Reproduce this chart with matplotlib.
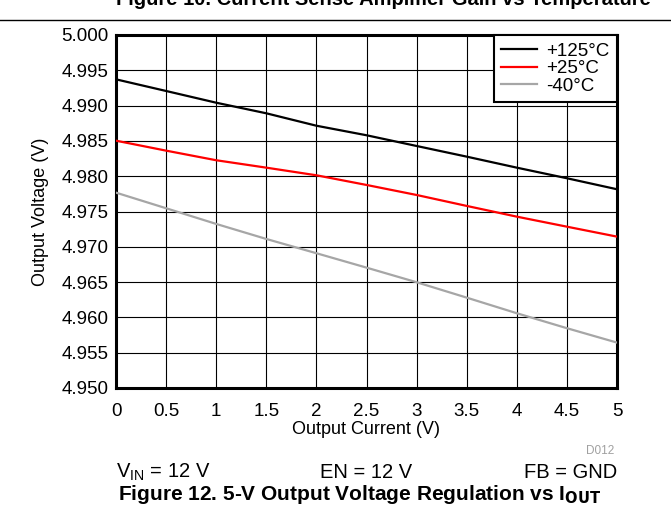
import matplotlib
matplotlib.use("Agg")
import matplotlib.pyplot as plt
from matplotlib.lines import Line2D

plt.rcParams["font.family"] = ["Liberation Sans", "DejaVu Sans"]

current = [0, 0.5, 1, 1.5, 2, 2.5, 3, 3.5, 4, 4.5, 5]
v_125 = [4.99372, 4.99207, 4.99041, 4.98891, 4.98715, 4.98580,
         4.98428, 4.98277, 4.98121, 4.97971, 4.97815]
v_25 = [4.98503, 4.98362, 4.98226, 4.98121, 4.98013, 4.97876,
        4.97734, 4.97579, 4.97427, 4.97285, 4.97144]
v_m40 = [4.97767, 4.97546, 4.97324, 4.97111, 4.96909, 4.96705,
         4.96498, 4.96280, 4.96059, 4.95847, 4.95643]
series_labels = ["+125°C", "+25°C", "-40°C"]
series_colors = ["#000000", "#ff0000", "#a6a6a6"]
xticks = [0, 0.5, 1, 1.5, 2, 2.5, 3, 3.5, 4, 4.5, 5]
xtick_labels = ["0", "0.5", "1", "1.5", "2", "2.5", "3", "3.5", "4", "4.5", "5"]
yticks = [4.950, 4.955, 4.960, 4.965, 4.970, 4.975, 4.980, 4.985, 4.990, 4.995, 5.000]

W, H = 671, 525
fig = plt.figure(figsize=(W / 100, H / 100), dpi=100)
ax = fig.add_axes([116 / W, 1 - 388 / H, (617 - 116) / W, (388 - 35) / H])

for ys, lab, col in zip([v_125, v_25, v_m40], series_labels, series_colors):
    ax.plot(current, ys, color=col, lw=1.6, label=lab, zorder=3)

ax.set_xlim(0, 5)
ax.set_ylim(4.950, 5.000)
ax.set_xticks(xticks)
ax.set_xticklabels(xtick_labels)
ax.set_yticks(yticks)
ax.set_yticklabels([f"{t:.3f}" for t in yticks])
ax.tick_params(length=0, labelsize=13.5, colors="#000000")
ax.tick_params(axis="x", pad=10.5)
ax.tick_params(axis="y", pad=5.5)
ax.grid(True, color="#000000", lw=0.8)
for spine in ax.spines.values():
    spine.set_linewidth(2.2)
    spine.set_color("#000000")

ax.set_xlabel("Output Current (V)", fontsize=13, labelpad=1)
ax.set_ylabel("Output Voltage (V)", fontsize=13, labelpad=9)

leg = ax.legend(loc="upper right", fontsize=13.5, frameon=True, fancybox=False,
                borderaxespad=0, handlelength=1.9, handletextpad=0.5,
                labelspacing=0.02, borderpad=0.4)
leg.get_frame().set_edgecolor("#000000")
leg.get_frame().set_linewidth(1.5)
leg.get_frame().set_alpha(1)

# top header cut off from previous figure
fig.text(383 / W, 1 - 9 / H, "Figure 10. Current Sense Amplifier Gain vs Temperature",
         ha="center", va="bottom", fontsize=14.5, fontweight="bold")
fig.add_artist(Line2D([0, 1], [1 - 19.5 / H, 1 - 19.5 / H], color="#000000", lw=1))

fig.text(614 / W, 1 - 451 / H, "D012", ha="right", va="center",
         fontsize=8.5, color="#a0a0a0")
fig.text(116 / W, 1 - 472 / H, r"V$_{\mathregular{IN}}$ = 12 V", ha="left",
         va="center", fontsize=14.5)
fig.text(366 / W, 1 - 472 / H, "EN = 12 V", ha="center", va="center", fontsize=14.5)
fig.text(617 / W, 1 - 472 / H, "FB = GND", ha="right", va="center", fontsize=14.5)
fig.text(118 / W, 1 - 495 / H,
         r"Figure 12. 5-V Output Voltage Regulation vs I$_{\mathregular{\bf OUT}}$",
         ha="left", va="center", fontsize=15, fontweight="bold")

fig.savefig("out.png", dpi=100)
